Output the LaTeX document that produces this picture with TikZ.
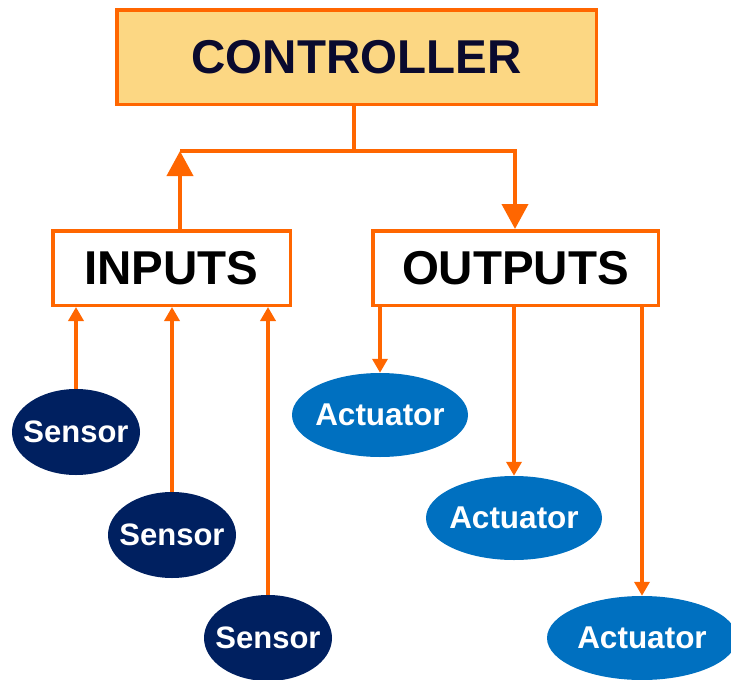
\documentclass[tikz,border=0pt]{standalone}
\usepackage{fontspec}
\setmainfont{Liberation Sans}
\usetikzlibrary{arrows.meta,shapes.geometric}
\definecolor{orng}{HTML}{FF6600}
\definecolor{ctrlfill}{HTML}{FCD783}
\definecolor{ctrltext}{HTML}{0A0A2E}
\definecolor{navy}{HTML}{002060}
\definecolor{actblue}{HTML}{0070C0}
\newcommand{\ztext}[1]{\makebox[0pt][c]{#1}}
\begin{document}
\begin{tikzpicture}[x=1pt,y=-1pt,
  box/.style={draw=orng,line width=3.5pt,rectangle,inner sep=0pt,font=\bfseries\fontsize{47.5}{50}\selectfont},
  sensornode/.style={ellipse,fill=navy,text=white,inner sep=0pt,minimum width=128pt,minimum height=86pt,font=\bfseries\fontsize{31}{34}\selectfont},
  actnode/.style={ellipse,fill=actblue,text=white,inner sep=0pt,minimum width=176pt,minimum height=84pt,font=\bfseries\fontsize{31.5}{34}\selectfont},
  wire/.style={draw=orng,line width=4pt},
  bigarrow/.style={wire,-{Triangle[width=26pt,length=25pt]}},
  smallarrow/.style={wire,-{Triangle[width=15pt,length=14pt]}}
]
\useasboundingbox (0,0) rectangle (731,680);

\node[box,fill=ctrlfill,text=ctrltext,minimum width=479.5pt,minimum height=94.5pt] (ctrl) at (356.5,57) {CONTROLLER};
\node[box,fill=white,text=black,minimum width=237.5pt,minimum height=74.5pt] (in) at (171.5,268) {INPUTS};
\node[box,fill=white,text=black,minimum width=285.5pt,minimum height=74.5pt] (out) at (515.5,268) {OUTPUTS};

\node[sensornode] (s1) at (76,432) {\ztext{Sensor}};
\node[sensornode] (s2) at (172,535) {\ztext{Sensor}};
\node[sensornode] (s3) at (268,638) {\ztext{Sensor}};

\node[actnode] (a1) at (380,415) {\ztext{Actuator}};
\node[actnode] (a2) at (514,518) {\ztext{Actuator}};
\node[actnode,minimum width=190pt] (a3) at (642,638) {\ztext{Actuator}};

\coordinate (j) at (354,151);
\coordinate (jl) at (180,151);
\coordinate (jr) at (515,151);

\draw[wire] (ctrl.south -| j) -- (j);
\draw[bigarrow] (in.north -| jl) -- (jl);
\draw[wire,line join=miter] (jl) -- (jr) -- ([yshift=-10pt]jr);
\draw[bigarrow] (jl -| jr) -- (out.north -| jr);

\draw[smallarrow] (s1.north) -- (s1.north |- in.south);
\draw[smallarrow] (s2.north) -- (s2.north |- in.south);
\draw[smallarrow] (s3.north) -- (s3.north |- in.south);

\draw[smallarrow] (a1.north |- out.south) -- (a1.north);
\draw[smallarrow] (a2.north |- out.south) -- (a2.north);
\draw[smallarrow] (a3.north |- out.south) -- (a3.north);
\end{tikzpicture}
\end{document}
